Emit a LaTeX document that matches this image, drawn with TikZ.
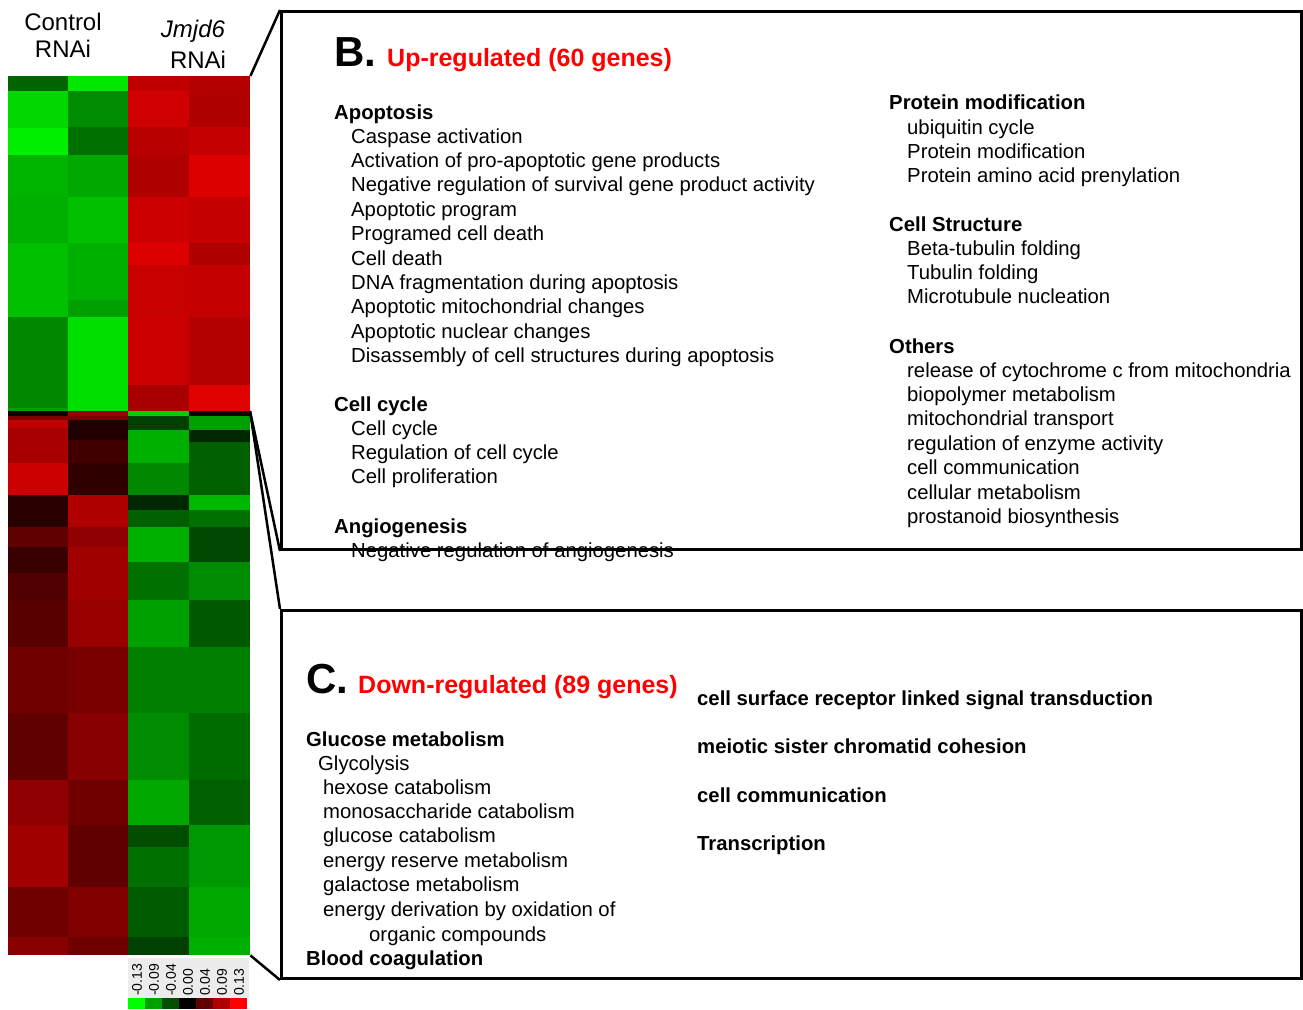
\documentclass[tikz,border=0pt]{standalone}
\usepackage{fontspec}
\setmainfont{Liberation Sans}
\usepackage{xcolor}
\usepackage{tikz}
\definecolor{scgrey}{HTML}{ECECEC}
\tikzset{
  panel/.style={draw, line width=3pt, inner sep=0pt, anchor=north west},
  panelletter/.style={anchor=base west, inner sep=0pt, font=\fontsize{42}{50}\selectfont\bfseries},
  paneltitle/.style={anchor=base west, inner sep=0pt, text=red, font=\fontsize{25}{30}\selectfont\bfseries},
  grouphead/.style={anchor=base west, inner sep=0pt, font=\fontsize{20.3}{24}\selectfont\bfseries},
  item/.style={anchor=base west, inner sep=0pt, font=\fontsize{20.3}{24}\selectfont},
  collabel/.style={anchor=base, inner sep=0pt, font=\fontsize{24}{28}\selectfont},
  scalelabel/.style={rotate=90, anchor=west, inner sep=0pt, font=\fontsize{14}{16}\selectfont},
  link/.style={line width=2.5pt},
}

\begin{document}
\begin{tikzpicture}[x=1pt, y=-1pt]
  \useasboundingbox (0,0) rectangle (1303,1009);

  % Column labels
  \node[collabel] (ctrl) at (63,30) {Control};
  \node[collabel] (ctrlr) at (63,57) {RNAi};
  \node[collabel] (jmjd) at (193,37) {\itshape Jmjd6};
  \node[collabel] (jmjdr) at (198,68) {RNAi};

  % Heatmap
  \node[inner sep=0pt, minimum width=242, minimum height=879, anchor=north west] (hm) at (8,76) {};
  \coordinate (hmmid) at (250,411);
  \foreach \ya/\yb/\r/\g in {76/91/0/100, 91/128/0/216, 128/155/0/240, 155/197/0/180, 197/243/0/176, 243/317/0/192, 317/408/0/136, 408/411/0/160, 411/416/16/0,
      416/420/128/0, 420/428/192/0, 428/463/168/0, 463/495/204/0, 495/527/40/0, 527/547/96/0, 547/573/56/0, 573/600/80/0, 600/647/88/0, 647/713/112/0, 713/780/96/0, 780/825/144/0, 825/887/160/0, 887/937/112/0, 937/955/136/0}
    \fill[color={rgb,255:red,\r;green,\g;blue,0}] (8,\ya) rectangle (68,\yb);
  \foreach \ya/\yb/\r/\g in {76/91/0/232, 91/127/0/140, 127/155/0/112, 155/197/0/168, 197/243/0/192, 243/300/0/176, 300/317/0/160, 317/411/0/224, 411/416/160/0,
      416/420/128/0, 420/440/32/0, 440/463/64/0, 463/495/48/0, 495/527/176/0, 527/547/144/0, 547/600/160/0, 600/647/152/0, 647/713/120/0, 713/780/136/0, 780/825/112/0, 825/887/96/0, 887/937/128/0, 937/955/112/0}
    \fill[color={rgb,255:red,\r;green,\g;blue,0}] (68,\ya) rectangle (128,\yb);
  \foreach \ya/\yb/\r/\g in {76/91/192/0, 91/127/208/0, 127/155/184/0, 155/197/176/0, 197/243/204/0, 243/265/220/0, 265/317/200/0, 317/385/204/0, 385/411/168/0, 411/416/0/208,
      416/430/0/64, 430/463/0/176, 463/495/0/136, 495/510/0/40, 510/527/0/96, 527/562/0/176, 562/600/0/112, 600/647/0/160, 647/713/0/128, 713/780/0/140, 780/825/0/168, 825/847/0/76, 847/887/0/112, 887/937/0/92, 937/955/0/64}
    \fill[color={rgb,255:red,\r;green,\g;blue,0}] (128,\ya) rectangle (189,\yb);
  \foreach \ya/\yb/\r/\g in {76/91/180/0, 91/127/176/0, 127/155/196/0, 155/197/220/0, 197/243/196/0, 243/265/176/0, 265/317/196/0, 317/385/180/0, 385/411/224/0, 411/416/16/0,
      416/430/0/160, 430/442/0/40, 442/495/0/96, 495/510/0/184, 510/527/0/112, 527/562/0/72, 562/600/0/140, 600/647/0/88, 647/713/0/128, 713/780/0/108, 780/825/0/96, 825/887/0/152, 887/937/0/168, 937/955/0/176}
    \fill[color={rgb,255:red,\r;green,\g;blue,0}] (189,\ya) rectangle (250,\yb);

  % Colour scale
  \fill[scgrey] (128,958) rectangle (249,998);
  \foreach \r/\g [count=\i from 0] in {0/255, 0/160, 0/80, 0/0, 96/0, 176/0, 255/0}
    \fill[color={rgb,255:red,\r;green,\g;blue,0}] ({128+17*\i},998) rectangle ({145+17*\i},1009);
  \foreach \v [count=\i from 0] in {-0.13, -0.09, -0.04, 0.00, 0.04, 0.09, 0.13}
    \node[scalelabel] (sc\i) at ({137+17*\i},996) {\v};

  % Panels
  \node[panel, minimum width=1020, minimum height=538] (boxB) at (280,10) {};
  \node[panel, minimum width=1020, minimum height=368] (boxC) at (280,609) {};

  % Zoom lines
  \draw[link] (hm.north east) -- (boxB.north west);
  \draw[link] (hmmid) -- (boxB.south west);
  \draw[link] (hmmid) -- (boxC.north west);
  \draw[link] (hm.south east) -- (boxC.south west);

  % B. Up-regulated
  \node[panelletter] (lblB) at (334,66) {B.};
  \node[paneltitle] (titleB) at (387,66) {Up-regulated (60 genes)};

  \node[grouphead] (apo) at (334,119) {Apoptosis};
  \foreach \t [count=\i from 0] in {Caspase activation, Activation of pro-apoptotic gene products,
      Negative regulation of survival gene product activity, Apoptotic program, Programed cell death,
      Cell death, DNA fragmentation during apoptosis, Apoptotic mitochondrial changes,
      Apoptotic nuclear changes, Disassembly of cell structures during apoptosis}
    \node[item] (apo\i) at (351,{143+24.4*\i}) {\t};

  \node[grouphead] (cyc) at (334,411) {Cell cycle};
  \foreach \t [count=\i from 0] in {Cell cycle, Regulation of cell cycle, Cell proliferation}
    \node[item] (cyc\i) at (351,{435+24.4*\i}) {\t};

  \node[grouphead] (ang) at (334,533) {Angiogenesis};
  \node[item] (ang0) at (351,557) {Negative regulation of angiogenesis};

  \node[grouphead] (prot) at (889,109) {Protein modification};
  \foreach \t [count=\i from 0] in {ubiquitin cycle, Protein modification, Protein amino acid prenylation}
    \node[item] (prot\i) at (907,{134+24.4*\i}) {\t};

  \node[grouphead] (struct) at (889,231) {Cell Structure};
  \foreach \t [count=\i from 0] in {Beta-tubulin folding, Tubulin folding, Microtubule nucleation}
    \node[item] (struct\i) at (907,{255+24.4*\i}) {\t};

  \node[grouphead] (oth) at (889,353) {Others};
  \foreach \t [count=\i from 0] in {release of cytochrome c from mitochondria, biopolymer metabolism,
      mitochondrial transport, regulation of enzyme activity, cell communication,
      cellular metabolism, prostanoid biosynthesis}
    \node[item] (oth\i) at (907,{377+24.4*\i}) {\t};

  % C. Down-regulated
  \node[panelletter] (lblC) at (306,693) {C.};
  \node[paneltitle] (titleC) at (358,693) {Down-regulated (89 genes)};

  \node[grouphead] (glu) at (306,746) {Glucose metabolism};
  \node[item] (gly) at (318,770) {Glycolysis};
  \foreach \t [count=\i from 0] in {hexose catabolism, monosaccharide catabolism, glucose catabolism,
      energy reserve metabolism, galactose metabolism, energy derivation by oxidation of}
    \node[item] (glu\i) at (323,{794+24.4*\i}) {\t};
  \node[item] (glu6) at (369,941) {organic compounds};
  \node[grouphead] (blood) at (306,965) {Blood coagulation};

  \foreach \t [count=\i from 0] in {cell surface receptor linked signal transduction,
      meiotic sister chromatid cohesion, cell communication, Transcription}
    \node[grouphead] (down\i) at (697,{705+48.5*\i}) {\t};
\end{tikzpicture}
\end{document}
